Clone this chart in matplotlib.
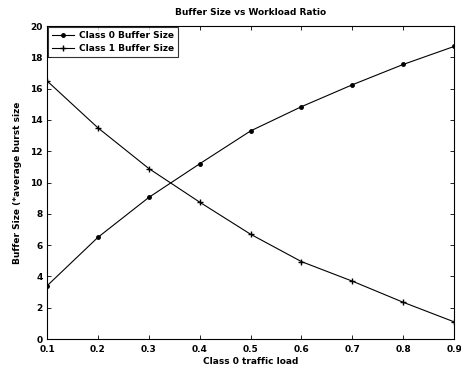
import matplotlib
matplotlib.use('Agg')
import matplotlib.pyplot as plt

# data
load = [0.1, 0.2, 0.3, 0.4, 0.5, 0.6, 0.7, 0.8, 0.9]
class0_buffer = [3.4, 6.5, 9.05, 11.2, 13.3, 14.85, 16.25, 17.55, 18.7]
class1_buffer = [16.5, 13.5, 10.9, 8.75, 6.7, 4.95, 3.7, 2.35, 1.1]
xticks = [0.1, 0.2, 0.3, 0.4, 0.5, 0.6, 0.7, 0.8, 0.9]
yticks = [0, 2, 4, 6, 8, 10, 12, 14, 16, 18, 20]

plt.rcParams['font.family'] = ['DejaVu Sans']
plt.rcParams['font.weight'] = 'bold'
plt.rcParams['axes.titleweight'] = 'bold'
plt.rcParams['axes.labelweight'] = 'bold'

fig = plt.figure(figsize=(4.61, 3.73), dpi=100)
ax = fig.add_axes([0.102, 0.091, 0.883, 0.839])

ax.plot(load, class0_buffer, color='black', linewidth=0.8, marker='o', markersize=2.5,
        label='Class 0 Buffer Size')
ax.plot(load, class1_buffer, color='black', linewidth=0.8, marker='+', markersize=5,
        markeredgewidth=1.0, label='Class 1 Buffer Size')

ax.set_xlim(0.1, 0.9)
ax.set_ylim(0, 20)
ax.set_xticks(xticks)
ax.set_yticks(yticks)
ax.set_xticklabels([f"{t:g}" for t in xticks])
ax.tick_params(direction='in', top=True, right=True, labelsize=6.5, length=3, width=0.6)
ax.tick_params(axis='x', pad=4.5)
ax.tick_params(axis='y', pad=3)
for s in ax.spines.values():
    s.set_linewidth(0.8)

ax.set_title('Buffer Size vs Workload Ratio', fontsize=6.5, pad=8)
ax.set_xlabel('Class 0 traffic load', fontsize=6.5, labelpad=2)
ax.set_ylabel('Buffer Size (*average burst size', fontsize=6.5, labelpad=6)

leg = ax.legend(loc='upper left', fontsize=6.5, frameon=True, fancybox=False,
                borderaxespad=0.15, handlelength=2.4, borderpad=0.4, labelspacing=0.45,
                handletextpad=0.6)
leg.get_frame().set_edgecolor('black')
leg.get_frame().set_linewidth(0.8)

fig.savefig('out.png', dpi=100)
